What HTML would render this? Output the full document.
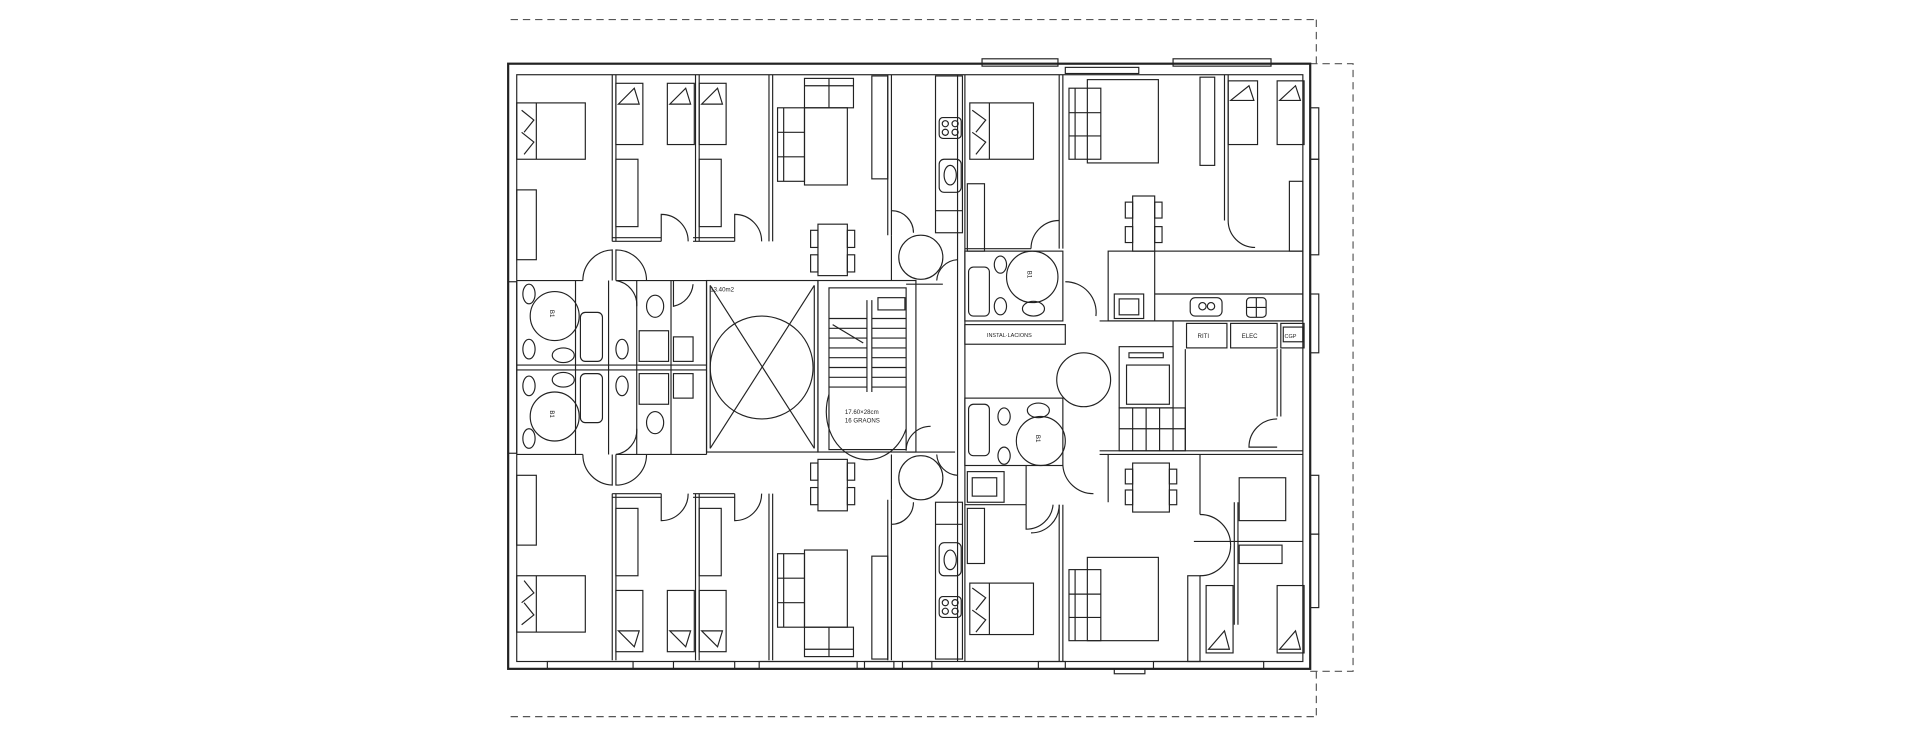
<!DOCTYPE html>
<html><head><meta charset="utf-8"><style>
html,body{margin:0;padding:0;background:#fff;}
svg{display:block}
text{font-family:"Liberation Sans",sans-serif;fill:#222}
</style></head><body>
<svg width="1920" height="735" viewBox="0 0 1568 600" preserveAspectRatio="none" xmlns="http://www.w3.org/2000/svg">
<defs>
<g id="unitL" fill="none">
 <rect x="422" y="84" width="56" height="46"/><line x1="438" y1="84" x2="438" y2="130"/>
 <path d="M426 90 L436 98 L428 108 M426 108 L436 116 L428 126"/>
 <rect x="422" y="155" width="16" height="57"/>
 <line x1="500" y1="61" x2="500" y2="197"/><line x1="503" y1="61" x2="503" y2="197"/>
 <line x1="568" y1="61" x2="568" y2="197"/><line x1="571" y1="61" x2="571" y2="197"/>
 <line x1="628" y1="61" x2="628" y2="197"/><line x1="631" y1="61" x2="631" y2="197"/>
 <line x1="500" y1="197" x2="540" y2="197"/><line x1="566" y1="197" x2="600" y2="197"/>
 <line x1="500" y1="194" x2="540" y2="194"/><line x1="566" y1="194" x2="600" y2="194"/>
 <path d="M540 197 L540 175 A22 22 0 0 1 562 197"/>
 <path d="M600 197 L600 175 A22 22 0 0 1 622 197"/>
 <rect x="503" y="68" width="22" height="50"/><path d="M505 85 L518 72 L522 85 Z"/>
 <rect x="503" y="130" width="18" height="55"/>
 <rect x="545" y="68" width="22" height="50"/><path d="M547 85 L560 72 L564 85 Z"/>
 <rect x="571" y="68" width="22" height="50"/><path d="M573 85 L586 72 L590 85 Z"/>
 <rect x="571" y="130" width="18" height="55"/>
 <rect x="635" y="88" width="22" height="60"/><line x1="640" y1="88" x2="640" y2="148"/>
 <line x1="635" y1="108" x2="657" y2="108"/><line x1="635" y1="128" x2="657" y2="128"/>
 <rect x="657" y="64" width="40" height="24"/><line x1="657" y1="70" x2="697" y2="70"/><line x1="677" y1="64" x2="677" y2="88"/>
 <rect x="657" y="88" width="35" height="63"/>
 <rect x="712" y="62" width="13" height="84"/>
 <line x1="725" y1="61" x2="725" y2="192"/><line x1="728" y1="61" x2="728" y2="192"/>
 <path d="M728 172 A18 18 0 0 1 746 190"/>
 <rect x="764" y="62" width="22" height="128"/>
 <rect x="767" y="96" width="18" height="17" rx="3"/><circle cx="772" cy="101" r="2.5"/><circle cx="780" cy="101" r="2.5"/><circle cx="772" cy="108" r="2.5"/><circle cx="780" cy="108" r="2.5"/>
 <rect x="767" y="130" width="18" height="27" rx="4"/><ellipse cx="776" cy="143" rx="5" ry="8"/>
 <line x1="764" y1="172" x2="786" y2="172"/>
 <rect x="668" y="183" width="24" height="42"/>
 <rect x="662" y="188" width="6" height="14"/><rect x="662" y="208" width="6" height="14"/>
 <rect x="692" y="188" width="6" height="14"/><rect x="692" y="208" width="6" height="14"/>
 <circle cx="752" cy="210" r="18"/>
 <path d="M476 229 A25 25 0 0 1 500 204 L500 229"/>
 <path d="M528 229 A25 25 0 0 0 503 204 L503 229"/>
 <line x1="728" y1="192" x2="728" y2="229"/>
 <path d="M765 229 A18 18 0 0 1 782 212"/>
</g>
</defs>
<g stroke="#222" stroke-width="0.95" fill="none">
 <g stroke-dasharray="6,4" stroke="#555">
  <line x1="417" y1="16" x2="1075" y2="16"/><line x1="1075" y1="16" x2="1075" y2="52"/>
  <line x1="417" y1="585" x2="1075" y2="585"/><line x1="1075" y1="548" x2="1075" y2="585"/>
  <polyline points="1070,52 1105,52 1105,548 1070,548"/>
 </g>
 <rect x="415" y="52" width="655" height="494" stroke-width="1.8"/>
 <rect x="422" y="61" width="642" height="479"/>
 <rect x="802" y="48" width="62" height="6"/><rect x="958" y="48" width="80" height="6"/><rect x="870" y="55" width="60" height="5"/>
 <rect x="447" y="540" width="70" height="6"/><rect x="550" y="540" width="50" height="6"/><rect x="620" y="540" width="80" height="6"/>
 <rect x="706" y="540" width="24" height="6"/><rect x="737" y="540" width="24" height="6"/><rect x="848" y="540" width="22" height="6"/>
 <rect x="942" y="540" width="90" height="6"/><rect x="910" y="546" width="25" height="4"/>
 <rect x="1070" y="88" width="7" height="42"/><rect x="1070" y="130" width="7" height="78"/><rect x="1070" y="240" width="7" height="48"/>
 <rect x="1070" y="388" width="7" height="48"/><rect x="1070" y="436" width="7" height="60"/>
 <rect x="415" y="230" width="7" height="140"/>

 <use href="#unitL"/>
 <use href="#unitL" transform="matrix(1 0 0 -1 0 600)"/>

 <line x1="422" y1="229" x2="476" y2="229"/><line x1="503" y1="229" x2="577" y2="229"/>
 <line x1="422" y1="371" x2="476" y2="371"/><line x1="503" y1="371" x2="577" y2="371"/>
 <line x1="422" y1="298" x2="577" y2="298"/><line x1="422" y1="302" x2="577" y2="302"/>
 <line x1="470" y1="229" x2="470" y2="371"/><line x1="497" y1="229" x2="497" y2="371"/>
 <line x1="520" y1="229" x2="520" y2="371"/><line x1="548" y1="229" x2="548" y2="371"/><line x1="577" y1="229" x2="577" y2="371"/>
 <circle cx="453" cy="258" r="20"/><circle cx="453" cy="340" r="20"/>
 <rect x="474" y="255" width="18" height="40" rx="4"/><rect x="474" y="305" width="18" height="40" rx="4"/>
 <ellipse cx="432" cy="240" rx="5" ry="8"/><ellipse cx="432" cy="285" rx="5" ry="8"/><ellipse cx="432" cy="315" rx="5" ry="8"/><ellipse cx="432" cy="358" rx="5" ry="8"/>
 <ellipse cx="460" cy="290" rx="9" ry="6"/><ellipse cx="460" cy="310" rx="9" ry="6"/>
 <ellipse cx="508" cy="285" rx="5" ry="8"/><ellipse cx="508" cy="315" rx="5" ry="8"/>
 <rect x="522" y="270" width="24" height="25"/><rect x="522" y="305" width="24" height="25"/>
 <ellipse cx="535" cy="250" rx="7" ry="9"/><ellipse cx="535" cy="345" rx="7" ry="9"/>
 <rect x="550" y="275" width="16" height="20"/><rect x="550" y="305" width="16" height="20"/>
 <path d="M503 229 A20 20 0 0 1 520 250"/><path d="M503 371 A20 20 0 0 0 520 350"/>
 <path d="M550 229 L550 250 A20 20 0 0 0 566 232"/>
 <rect x="577" y="229" width="91" height="140"/>
 <line x1="580" y1="233" x2="665" y2="366"/><line x1="665" y1="233" x2="580" y2="366"/>
 <circle cx="622" cy="300" r="42"/>
 <line x1="580" y1="233" x2="580" y2="366"/><line x1="665" y1="233" x2="665" y2="366"/>
 <rect x="668" y="229" width="80" height="140"/><rect x="677" y="235" width="63" height="132"/>
 <line x1="712" y1="245" x2="712" y2="320"/><line x1="708" y1="245" x2="708" y2="320"/>
 <line x1="677" y1="260" x2="708" y2="260"/><line x1="677" y1="268" x2="708" y2="268"/><line x1="677" y1="276" x2="708" y2="276"/>
 <line x1="677" y1="284" x2="708" y2="284"/><line x1="677" y1="292" x2="708" y2="292"/><line x1="677" y1="300" x2="708" y2="300"/>
 <line x1="677" y1="308" x2="708" y2="308"/><line x1="677" y1="316" x2="708" y2="316"/>
 <line x1="712" y1="260" x2="740" y2="260"/><line x1="712" y1="268" x2="740" y2="268"/><line x1="712" y1="276" x2="740" y2="276"/>
 <line x1="712" y1="284" x2="740" y2="284"/><line x1="712" y1="292" x2="740" y2="292"/><line x1="712" y1="300" x2="740" y2="300"/>
 <line x1="712" y1="308" x2="740" y2="308"/><line x1="712" y1="316" x2="740" y2="316"/>
 <line x1="680" y1="265" x2="705" y2="280"/>
 <path d="M677 322 A30 35 0 0 0 740 350"/>
 <rect x="717" y="243" width="22" height="10"/>
 <path d="M740 368 A20 20 0 0 1 760 348"/>
 <line x1="782" y1="61" x2="782" y2="540"/><line x1="788" y1="61" x2="788" y2="540"/>
 <line x1="740" y1="232" x2="770" y2="232"/><line x1="740" y1="369" x2="780" y2="369"/>

 <rect x="792" y="84" width="52" height="46"/><line x1="808" y1="84" x2="808" y2="130"/>
 <path d="M794 90 L805 98 L797 108 M794 108 L805 116 L797 126"/>
 <rect x="790" y="150" width="14" height="55"/>
 <line x1="865" y1="61" x2="865" y2="203"/><line x1="868" y1="61" x2="868" y2="203"/>
 <line x1="788" y1="203" x2="842" y2="203"/><path d="M842 203 A23 23 0 0 1 865 180"/>
 <rect x="873" y="72" width="26" height="58"/><line x1="878" y1="72" x2="878" y2="130"/><line x1="873" y1="92" x2="899" y2="92"/><line x1="873" y1="111" x2="899" y2="111"/>
 <rect x="888" y="65" width="58" height="68"/>
 <rect x="925" y="160" width="18" height="45"/><rect x="919" y="165" width="6" height="13"/><rect x="919" y="185" width="6" height="13"/><rect x="943" y="165" width="6" height="13"/><rect x="943" y="185" width="6" height="13"/>
 <rect x="980" y="63" width="12" height="72"/>
 <line x1="1000" y1="61" x2="1000" y2="180"/><line x1="1003" y1="61" x2="1003" y2="180"/>
 <path d="M1003 180 A22 22 0 0 0 1025 202"/>
 <rect x="1003" y="66" width="24" height="52"/><path d="M1005 82 L1020 70 L1024 82 Z"/>
 <rect x="1043" y="66" width="22" height="52"/><path d="M1045 82 L1058 70 L1062 82 Z"/>
 <rect x="1053" y="148" width="11" height="57"/>
 <rect x="905" y="205" width="159" height="57"/><line x1="943" y1="205" x2="943" y2="262"/>
 <line x1="943" y1="240" x2="1064" y2="240"/>
 <rect x="910" y="240" width="24" height="20"/><rect x="914" y="244" width="16" height="13"/>
 <rect x="972" y="243" width="26" height="15" rx="4"/><circle cx="982" cy="250" r="3"/><circle cx="989" cy="250" r="3"/>
 <rect x="1018" y="243" width="16" height="16" rx="3"/><line x1="1026" y1="243" x2="1026" y2="259"/><line x1="1018" y1="251" x2="1034" y2="251"/>
 <line x1="898" y1="262" x2="1064" y2="262"/>
 <rect x="969" y="264" width="33" height="20"/><rect x="1005" y="264" width="38" height="20"/><rect x="1046" y="264" width="19" height="20"/><rect x="1048" y="267" width="16" height="12"/>
 <rect x="788" y="205" width="80" height="57"/>
 <rect x="791" y="218" width="17" height="40" rx="4"/>
 <circle cx="843" cy="226" r="21"/>
 <ellipse cx="817" cy="216" rx="5" ry="7"/><ellipse cx="817" cy="250" rx="5" ry="7"/><ellipse cx="844" cy="252" rx="9" ry="6"/>
 <path d="M870 230 A25 25 0 0 1 895 258"/>
 <rect x="788" y="265" width="82" height="16"/>
 <rect x="914" y="283" width="44" height="50"/><rect x="920" y="298" width="35" height="32"/><rect x="922" y="288" width="28" height="4"/>
 <rect x="914" y="333" width="54" height="35"/>
 <line x1="925" y1="333" x2="925" y2="368"/><line x1="936" y1="333" x2="936" y2="368"/><line x1="947" y1="333" x2="947" y2="368"/><line x1="958" y1="333" x2="958" y2="368"/>
 <line x1="914" y1="350" x2="968" y2="350"/>
 <line x1="958" y1="283" x2="958" y2="262"/><line x1="968" y1="285" x2="968" y2="368"/>
 <circle cx="885" cy="310" r="22"/>
 <line x1="1043" y1="285" x2="1043" y2="340"/><line x1="1046" y1="285" x2="1046" y2="340"/>
 <path d="M1043 365 L1020 365 A23 23 0 0 1 1043 342"/>
 <line x1="898" y1="368" x2="1064" y2="368"/><line x1="898" y1="371" x2="1064" y2="371"/>
 <rect x="788" y="325" width="80" height="55"/>
 <rect x="791" y="330" width="17" height="42" rx="4"/>
 <circle cx="850" cy="360" r="20"/>
 <ellipse cx="820" cy="340" rx="5" ry="7"/><ellipse cx="848" cy="335" rx="9" ry="6"/><ellipse cx="820" cy="372" rx="5" ry="7"/>
 <rect x="790" y="385" width="30" height="25"/><rect x="794" y="390" width="20" height="15"/>
 <line x1="788" y1="412" x2="838" y2="412"/><line x1="838" y1="380" x2="838" y2="412"/>
 <path d="M838 412 L838 432 A22 22 0 0 0 860 412"/>
 <path d="M868 380 A25 25 0 0 0 893 403"/>
 <rect x="925" y="378" width="30" height="40"/><rect x="919" y="383" width="6" height="12"/><rect x="919" y="400" width="6" height="12"/><rect x="955" y="383" width="6" height="12"/><rect x="955" y="400" width="6" height="12"/>
 <line x1="905" y1="371" x2="905" y2="410"/>
 <line x1="980" y1="371" x2="980" y2="420"/><rect x="1012" y="390" width="38" height="35"/>
 <line x1="1008" y1="410" x2="1008" y2="510"/><line x1="1011" y1="410" x2="1011" y2="510"/>
 <path d="M980 420 A25 25 0 0 1 1005 445"/><line x1="975" y1="442" x2="1064" y2="442"/>
 <rect x="1012" y="445" width="35" height="15"/>
 <path d="M1005 445 A25 25 0 0 1 980 470"/>
 <line x1="865" y1="412" x2="865" y2="540"/><line x1="868" y1="412" x2="868" y2="540"/>
 <path d="M865 412 A23 23 0 0 1 842 435"/>
 <rect x="790" y="415" width="14" height="45"/>
 <rect x="792" y="476" width="52" height="42"/><line x1="808" y1="476" x2="808" y2="518"/>
 <path d="M794 480 L805 488 L797 498 M794 498 L805 506 L797 516"/>
 <rect x="873" y="465" width="26" height="58"/><line x1="878" y1="465" x2="878" y2="523"/><line x1="873" y1="485" x2="899" y2="485"/><line x1="873" y1="504" x2="899" y2="504"/>
 <rect x="888" y="455" width="58" height="68"/>
 <rect x="970" y="470" width="10" height="70"/>
 <rect x="985" y="478" width="22" height="55"/><path d="M987 530 L1000 515 L1004 530 Z"/>
 <rect x="1043" y="478" width="22" height="55"/><path d="M1045 530 L1058 515 L1062 530 Z"/>
</g>
<g font-size="5">
 <text x="580" y="238">13.40m2</text>
 <text x="690" y="338">17.60×28cm</text><text x="690" y="345">16 GRAONS</text>
 <text x="806" y="275" font-size="4.5">INSTAL·LACIONS</text>
 <text x="978" y="276">RITI</text><text x="1014" y="276">ELEC</text><text x="1049" y="276" font-size="4.5">CGP</text>
 <text x="448" y="262" transform="rotate(90 453 258)">B1</text>
 <text x="448" y="344" transform="rotate(90 453 340)">B1</text>
 <text x="838" y="230" transform="rotate(90 843 226)">B1</text>
 <text x="845" y="364" transform="rotate(90 850 360)">B1</text>
</g>
</svg>
</body></html>
